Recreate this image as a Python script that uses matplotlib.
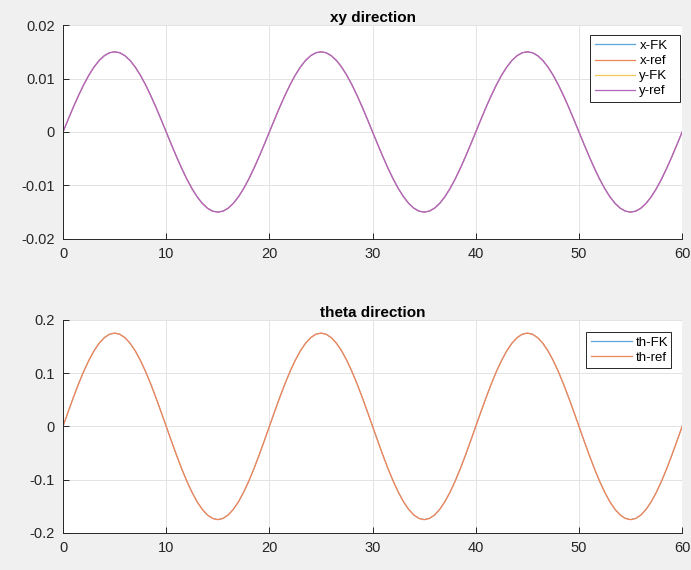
import matplotlib
matplotlib.use("Agg")
import matplotlib.pyplot as plt
import numpy as np
from matplotlib.ticker import FuncFormatter

plt.rcParams["font.family"] = ["Liberation Sans", "DejaVu Sans"]
plt.rcParams["axes.unicode_minus"] = False

# samples every 0.5 s
time_step = 0.5

xy_wave = [
    0, 0.00235, 0.00464, 0.00681, 0.00882, 0.01061, 0.01214, 0.01337, 0.01427, 0.01482,
    0.015, 0.01482, 0.01427, 0.01337, 0.01214, 0.01061, 0.00882, 0.00681, 0.00464, 0.00235,
    0, -0.00235, -0.00464, -0.00681, -0.00882, -0.01061, -0.01214, -0.01337, -0.01427, -0.01482,
    -0.015, -0.01482, -0.01427, -0.01337, -0.01214, -0.01061, -0.00882, -0.00681, -0.00464, -0.00235,
    0, 0.00235, 0.00464, 0.00681, 0.00882, 0.01061, 0.01214, 0.01337, 0.01427, 0.01482,
    0.015, 0.01482, 0.01427, 0.01337, 0.01214, 0.01061, 0.00882, 0.00681, 0.00464, 0.00235,
    0, -0.00235, -0.00464, -0.00681, -0.00882, -0.01061, -0.01214, -0.01337, -0.01427, -0.01482,
    -0.015, -0.01482, -0.01427, -0.01337, -0.01214, -0.01061, -0.00882, -0.00681, -0.00464, -0.00235,
    0, 0.00235, 0.00464, 0.00681, 0.00882, 0.01061, 0.01214, 0.01337, 0.01427, 0.01482,
    0.015, 0.01482, 0.01427, 0.01337, 0.01214, 0.01061, 0.00882, 0.00681, 0.00464, 0.00235,
    0, -0.00235, -0.00464, -0.00681, -0.00882, -0.01061, -0.01214, -0.01337, -0.01427, -0.01482,
    -0.015, -0.01482, -0.01427, -0.01337, -0.01214, -0.01061, -0.00882, -0.00681, -0.00464, -0.00235,
    0,
]

th_wave = [
    0, 0.0274, 0.0541, 0.0795, 0.1029, 0.1237, 0.1416, 0.1559, 0.1664, 0.1728,
    0.175, 0.1728, 0.1664, 0.1559, 0.1416, 0.1237, 0.1029, 0.0795, 0.0541, 0.0274,
    0, -0.0274, -0.0541, -0.0795, -0.1029, -0.1237, -0.1416, -0.1559, -0.1664, -0.1728,
    -0.175, -0.1728, -0.1664, -0.1559, -0.1416, -0.1237, -0.1029, -0.0795, -0.0541, -0.0274,
    0, 0.0274, 0.0541, 0.0795, 0.1029, 0.1237, 0.1416, 0.1559, 0.1664, 0.1728,
    0.175, 0.1728, 0.1664, 0.1559, 0.1416, 0.1237, 0.1029, 0.0795, 0.0541, 0.0274,
    0, -0.0274, -0.0541, -0.0795, -0.1029, -0.1237, -0.1416, -0.1559, -0.1664, -0.1728,
    -0.175, -0.1728, -0.1664, -0.1559, -0.1416, -0.1237, -0.1029, -0.0795, -0.0541, -0.0274,
    0, 0.0274, 0.0541, 0.0795, 0.1029, 0.1237, 0.1416, 0.1559, 0.1664, 0.1728,
    0.175, 0.1728, 0.1664, 0.1559, 0.1416, 0.1237, 0.1029, 0.0795, 0.0541, 0.0274,
    0, -0.0274, -0.0541, -0.0795, -0.1029, -0.1237, -0.1416, -0.1559, -0.1664, -0.1728,
    -0.175, -0.1728, -0.1664, -0.1559, -0.1416, -0.1237, -0.1029, -0.0795, -0.0541, -0.0274,
    0,
]

# FK output sits exactly on the reference in every channel
x_fk = xy_wave
x_ref = xy_wave
y_fk = xy_wave
y_ref = xy_wave
th_fk = th_wave
th_ref = th_wave

xy_labels = ["x-FK", "x-ref", "y-FK", "y-ref"]
th_labels = ["th-FK", "th-ref"]

colors = ["#5fa6dc", "#ee875a", "#f4c65c", "#b266c0"]
dark = "#262626"

t = np.arange(len(xy_wave)) * time_step

fig = plt.figure(figsize=(6.91, 5.70), dpi=100, facecolor="#f0f0f0")
ax1 = fig.add_axes([0.0912, 0.581, 0.896, 0.375])
ax2 = fig.add_axes([0.0912, 0.065, 0.896, 0.374])


def style(ax, ylim, yticks, title):
    ax.set_facecolor("white")
    ax.set_xlim(0, 60)
    ax.set_ylim(*ylim)
    ax.set_xticks(np.arange(0, 61, 10))
    ax.set_yticks(yticks)
    ax.yaxis.set_major_formatter(FuncFormatter(lambda v, p: "%g" % round(v, 6)))
    ax.grid(True, color="#e3e3e3", linewidth=0.7)
    ax.set_axisbelow(True)
    for s in ["top", "right"]:
        ax.spines[s].set_visible(False)
    for s in ["left", "bottom"]:
        ax.spines[s].set_color(dark)
        ax.spines[s].set_linewidth(0.7)
    ax.tick_params(direction="in", length=4, width=0.7, color=dark,
                   labelcolor=dark, labelsize=10.5, pad=6)
    ax.set_title(title, fontsize=11, fontweight="bold", color="black", pad=1.5)


def draw(ax, series, labels):
    # the last series sits on top, slightly wider so the hidden ones don't bleed
    n = len(series)
    for i, (vals, lbl) in enumerate(zip(series, labels)):
        lw = 1.0 if i == n - 1 else 0.6
        ax.plot(t, vals, color=colors[i], linewidth=lw, label=lbl)


draw(ax1, [x_fk, x_ref, y_fk, y_ref], xy_labels)
style(ax1, (-0.02, 0.02), [-0.02, -0.01, 0, 0.01, 0.02], "xy direction")

draw(ax2, [th_fk, th_ref], th_labels)
style(ax2, (-0.2, 0.2), [-0.2, -0.1, 0, 0.1, 0.2], "theta direction")

# legend boxes: (left, width, top) in axes fractions
legend_boxes = {ax1: (0.851, 0.1454, 0.953), ax2: (0.845, 0.1373, 0.944)}
for ax, (x0, w, top) in legend_boxes.items():
    leg = ax.legend(loc="upper left", bbox_to_anchor=(x0, 0, w, top), mode="expand",
                    borderaxespad=0, fontsize=9.5, fancybox=False, framealpha=1,
                    edgecolor=dark, handlelength=3.1, handletextpad=0.3,
                    borderpad=0.35, labelspacing=0.22)
    leg.get_frame().set_linewidth(0.7)
    for h in leg.get_lines():
        h.set_linewidth(0.9)

fig.savefig("out.png", dpi=100, facecolor=fig.get_facecolor())
